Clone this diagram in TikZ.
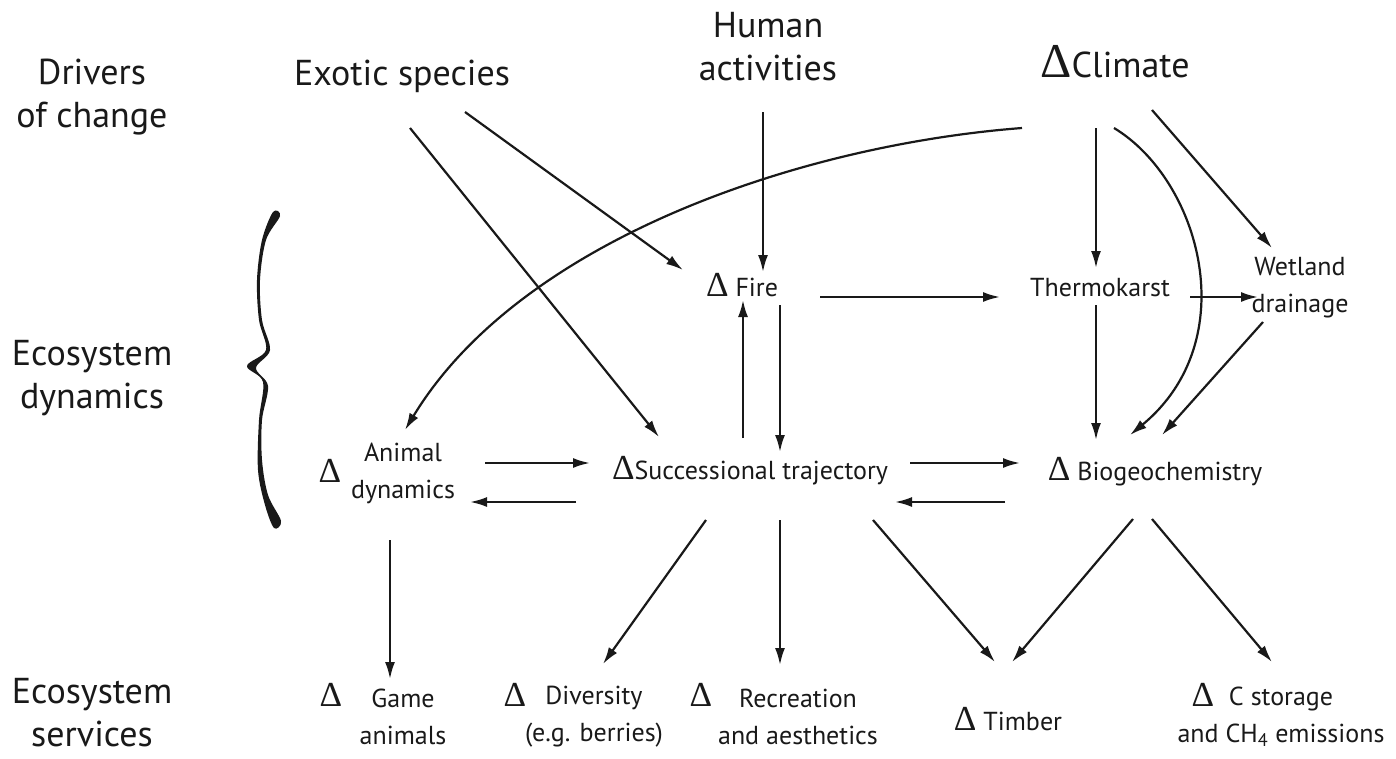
\documentclass[tikz,border=0pt]{standalone}
\usepackage{fontspec}
\setmainfont{PT Sans}
\newfontfamily\dfont{Liberation Serif}
\usetikzlibrary{arrows.meta}
\newcommand\dlt{\scalebox{1.35}{\dfont Δ}}
\begin{document}
\begin{tikzpicture}[x=1pt,y=-1pt,
  big/.style={font=\fontsize{36}{43}\selectfont, align=center, inner sep=0pt, text=black!90},
  mid/.style={font=\fontsize{26}{37}\selectfont, align=center, inner sep=0pt, text=black!90},
  arr/.style={-{Latex[length=17pt,width=10pt]}, line width=2.2pt, draw=black!90}]
\useasboundingbox (0,0) rectangle (1396,758);

% row labels
\node[big] (drivers) at (92,97)  {Drivers\\of change};
\node[big] (ecodyn)  at (92,378) {Ecosystem\\dynamics};
\node[big] (ecoserv) at (92,713) {Ecosystem\\services};

% drivers of change
\node[big] (exotic)  at (402,76)  {Exotic species};
\node[big] (human)   at (768,47)  {Human\\activities};
\node[big] (climate) at (1115,62) {\dlt Climate};

% ecosystem dynamics
\node[mid] (fire)    at (742,285)  {\dlt\ Fire};
\node[mid] (thermo)  at (1100,288) {Thermokarst};
\node[mid] (wetland) at (1300,288) {Wetland\\drainage};
\node[mid] (animalD) at (330,471)  {\dlt};
\node[mid] (animal)  at (403,473)  {Animal\\dynamics};
\node[mid] (succ)    at (750,471)  {\dlt Successional trajectory};
\node[mid] (biogeo)  at (1155,472) {\dlt\ Biogeochemistry};

% ecosystem services
\node[mid] (gameD)   at (331,695)  {\dlt};
\node[mid] (game)    at (403,717)  {Game\\animals};
\node[mid] (divD)    at (515,695)  {\dlt};
\node[mid] (div)     at (594,717)  {Diversity\\(e.g. berries)};
\node[mid] (recD)    at (701,695)  {\dlt};
\node[mid] (rec)     at (798,717)  {Recreation\\and aesthetics};
\node[mid] (timber)  at (1008,719) {\dlt\ Timber};
\node[mid] (cD)      at (1203,695) {\dlt};
\node[mid] (cst)     at (1281,717) {C storage\\and CH\textsubscript{4} emissions};

% brace grouping the ecosystem dynamics row
\fill[black!90] plot[smooth cycle, tension=0.55] coordinates {
  (273,212) (262,240) (257,280) (259,320) (266,350) (247,366)
  (263,382) (259,420) (258,470) (265,505) (274,528)
  (281,521) (268,495) (262,460) (262,420) (268,386) (256,368)
  (270,350) (262,320) (260,280) (266,240) (280,216)};

% drivers
\draw[arr] ([shift={(8,52)}]exotic.center) -- ([shift={(-91,-34)}]succ.center);
\draw[arr] ([shift={(63,36)}]exotic.center) -- ([shift={(-59,-15)}]fire.center);
\draw[arr] ([shift={(-5,65)}]human.center) -- ([shift={(21,-13)}]fire.center);
\draw[arr] ([shift={(-93,66)}]climate.center) .. controls (800,145) and (520,240) .. ([shift={(2,-43)}]animal.center);
\draw[arr] ([shift={(-19,66)}]climate.center) -- ([shift={(-4,-20)}]thermo.center);
\draw[arr] ([shift={(-1,66)}]climate.center) .. controls (1200,180) and (1245,340) .. ([shift={(-25,-37)}]biogeo.center);
\draw[arr] ([shift={(37,48)}]climate.center) -- ([shift={(-28,-40)}]wetland.center);

% dynamics
\draw[arr] ([shift={(78,12)}]fire.center) -- ([shift={(-100,9)}]thermo.center);
\draw[arr] ([shift={(90,9)}]thermo.center) -- ([shift={(-42,9)}]wetland.center);
\draw[arr] ([shift={(-4,17)}]thermo.center) -- ([shift={(-59,-32)}]biogeo.center);
\draw[arr] ([shift={(-37,34)}]wetland.center) -- ([shift={(7,-37)}]biogeo.center);
\draw[arr] ([shift={(38,20)}]fire.center) -- ([shift={(30,-19)}]succ.center);
\draw[arr] ([shift={(-7,-33)}]succ.center) -- ([shift={(1,15)}]fire.center);
\draw[arr] ([shift={(82,-10)}]animal.center) -- ([shift={(-160,-8)}]succ.center);
\draw[arr] ([shift={(-174,31)}]succ.center) -- ([shift={(67,29)}]animal.center);
\draw[arr] ([shift={(160,-8)}]succ.center) -- ([shift={(-135,-9)}]biogeo.center);
\draw[arr] ([shift={(-150,30)}]biogeo.center) -- ([shift={(145,31)}]succ.center);

% services
\draw[arr] ([shift={(-13,67)}]animal.center) -- ([shift={(-13,-38)}]game.center);
\draw[arr] ([shift={(-44,49)}]succ.center) -- ([shift={(9,-53)}]div.center);
\draw[arr] ([shift={(30,49)}]succ.center) -- ([shift={(-18,-52)}]rec.center);
\draw[arr] ([shift={(123,49)}]succ.center) -- ([shift={(-13,-57)}]timber.center);
\draw[arr] ([shift={(-22,47)}]biogeo.center) -- ([shift={(4,-57)}]timber.center);
\draw[arr] ([shift={(-3,47)}]biogeo.center) -- ([shift={(-9,-55)}]cst.center);
\end{tikzpicture}
\end{document}
